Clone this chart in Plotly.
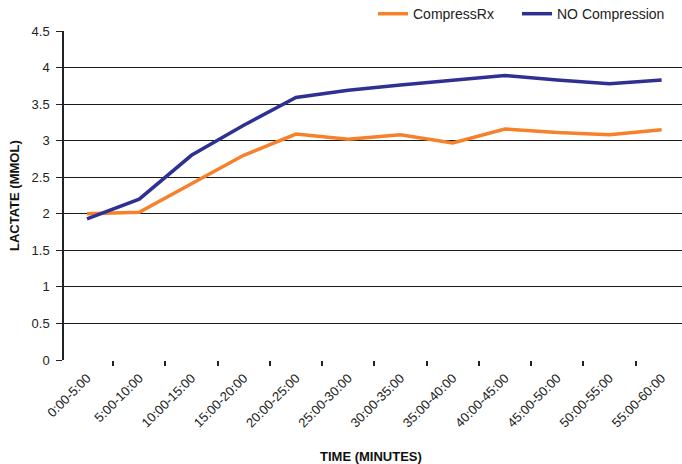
import plotly.graph_objects as go

# Time windows (minutes) and blood lactate readings (mmol)
periods = ["0:00-5:00", "5:00-10:00", "10:00-15:00", "15:00-20:00", "20:00-25:00",
           "25:00-30:00", "30:00-35:00", "35:00-40:00", "40:00-45:00", "45:00-50:00",
           "50:00-55:00", "55:00-60:00"]
compressrx = [2.00, 2.02, 2.41, 2.80, 3.09, 3.02, 3.08, 2.97, 3.16, 3.11, 3.08, 3.15]
no_compression = [1.93, 2.20, 2.80, 3.21, 3.59, 3.69, 3.76, 3.82, 3.89, 3.83, 3.78, 3.83]
y_ticks = [0, 0.5, 1, 1.5, 2, 2.5, 3, 3.5, 4, 4.5]

FONT = "Liberation Sans, Arial, sans-serif"

fig = go.Figure()
fig.add_trace(go.Scatter(x=periods, y=compressrx, mode="lines", name="CompressRx",
                         line=dict(color="#F7812A", width=3.5), legend="legend"))
fig.add_trace(go.Scatter(x=periods, y=no_compression, mode="lines", name="NO Compression",
                         line=dict(color="#2E3192", width=3.5), legend="legend2"))

legend_style = dict(orientation="h", xanchor="left", y=1.1, yanchor="top",
                    font=dict(size=14, color="#222222"), bgcolor="rgba(0,0,0,0)",
                    itemwidth=30)

fig.update_layout(
    width=682, height=464,
    margin=dict(l=64, r=0, t=31, b=104, autoexpand=False),
    paper_bgcolor="white", plot_bgcolor="white",
    font=dict(family=FONT, size=13, color="#222222"),
    showlegend=True,
    legend=dict(x=0.5, **legend_style),
    legend2=dict(x=0.733, **legend_style),
    xaxis=dict(type="category", range=[-0.44, 11.39], tickangle=-45,
               tickson="boundaries", ticks="outside", ticklen=5, tickwidth=1.5,
               tickcolor="#222222", ticklabelstandoff=7, automargin=False,
               showgrid=False, zeroline=False,
               showline=False, tickfont=dict(size=13, color="#222222")),
    yaxis=dict(range=[0, 4.5], tickvals=y_ticks,
               ticktext=[("%g" % v) for v in y_ticks],
               ticks="outside", ticklen=6, tickwidth=1.2, tickcolor="#222222",
               ticklabelstandoff=4, automargin=False,
               showgrid=True, gridcolor="#1a1a1a", gridwidth=1.2,
               showline=True, linecolor="#222222", linewidth=1.5,
               zeroline=False, tickfont=dict(size=13, color="#222222")),
    annotations=[
        dict(text="<b>TIME (MINUTES)</b>", xref="paper", yref="paper",
             x=(371 - 64) / 618, y=-(456 - 360) / 329, xanchor="center", yanchor="middle",
             showarrow=False, font=dict(size=13, color="#111111")),
        dict(text="<b>LACTATE (MMOL)</b>", xref="paper", yref="paper",
             x=-(64 - 14) / 618, y=(360 - 196) / 329, xanchor="center", yanchor="middle",
             textangle=-90, showarrow=False, font=dict(size=13, color="#111111")),
    ],
)

fig.write_html("out.html")
